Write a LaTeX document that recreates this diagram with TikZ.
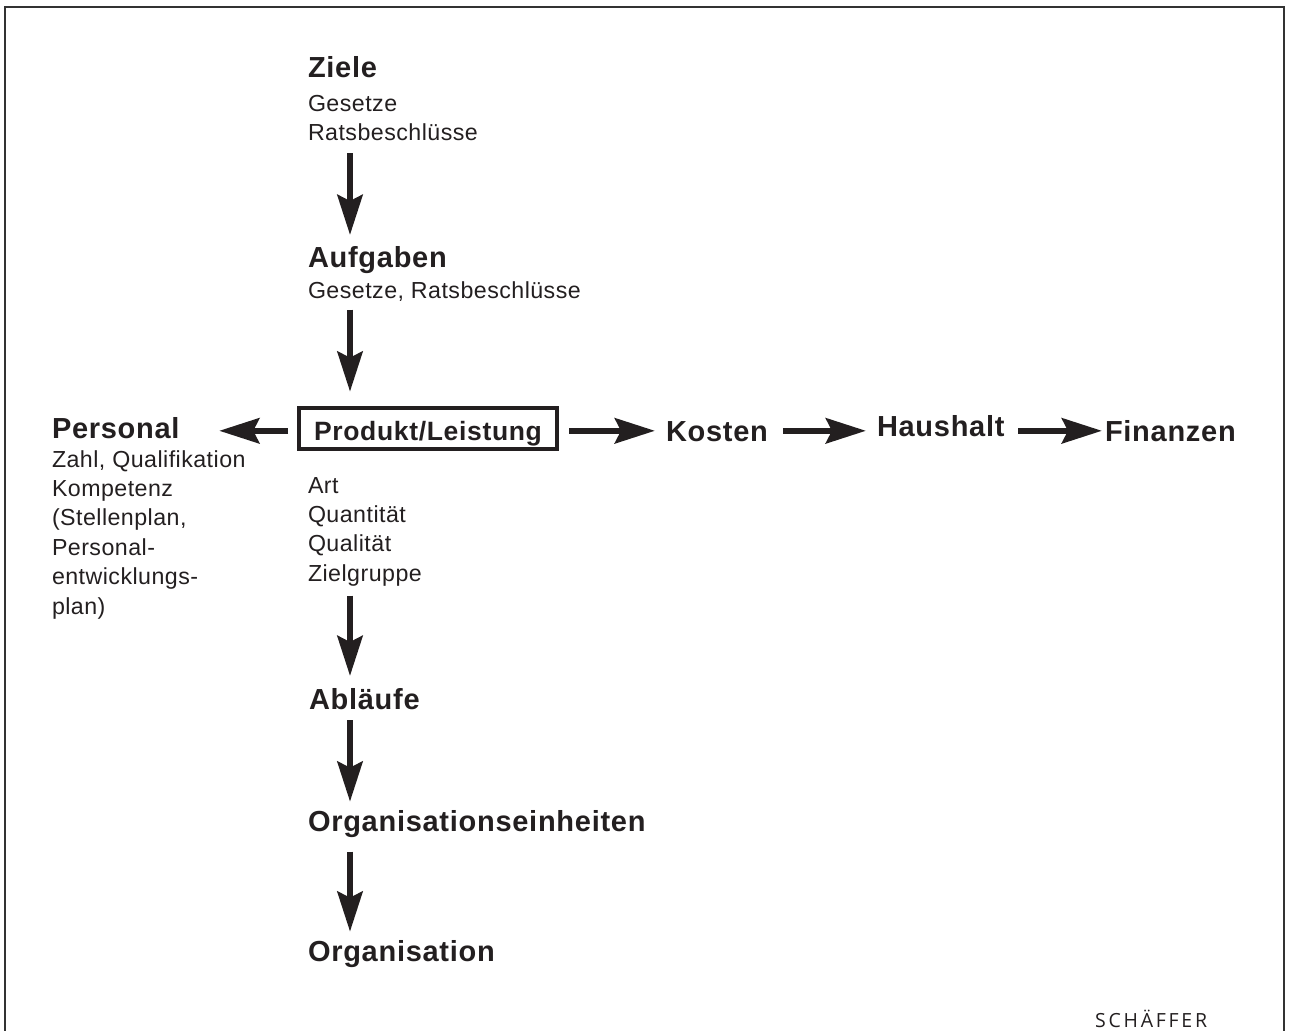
\documentclass[tikz,border=0pt]{standalone}
\usepackage{fontspec}
\setmainfont{Liberation Sans}
\newfontfamily\hdf[LetterSpace=2.5]{Liberation Sans}
\newfontfamily\sbf[LetterSpace=2]{Liberation Sans}
\newfontfamily\logof[LetterSpace=14]{Open Sans}
\usetikzlibrary{arrows.meta}
\definecolor{ink}{HTML}{231F20}
\definecolor{framec}{HTML}{333333}
\tikzset{
  hd/.style={font=\hdf\fontsize{29}{34}\selectfont\bfseries, inner sep=0pt, outer sep=0pt,
             anchor=base west, text height=21pt, text depth=6pt, text=ink},
  sub/.style={font=\sbf\fontsize{23.2}{29.4}\selectfont, inner sep=0pt, outer sep=0pt,
              anchor=base west, align=left, text=ink},
  arr/.style={draw=ink, line width=6.5pt, -{Stealth[length=40pt,width=25pt,inset=6pt]}},
  boxed/.style={draw=ink, line width=4pt, minimum width=258pt, minimum height=41pt,
                inner sep=0pt, text height=23pt, text depth=0pt, text=ink,
                font=\hdf\fontsize{26.5}{32}\selectfont\bfseries},
  frame/.style={draw=framec, line width=2pt}
}
\begin{document}
\begin{tikzpicture}[x=1pt,y=-1pt]
\useasboundingbox (0,0) rectangle (1289,1030);
\draw[frame] (5,1036) -- (5,7) -- (1284.3,7) -- (1284.3,1036);

\coordinate (ax) at (350,0);
\coordinate (ay) at (0,430.8);

% multi-line nodes: base anchor = baseline of last line
\node[hd] (zie) at (308,78) {Ziele};
\node[sub] (zs) at (308,140.7) {Gesetze\\Ratsbeschlüsse};
\node[hd] (auf) at (308,267.3) {Aufgaben};
\node[sub] (as) at (308,298.3) {Gesetze, Ratsbeschlüsse};
\node[boxed] (pl) at (428,428.5) {Produkt/Leistung};
\node[hd] (pers) at (52,438) {Personal};
\node[sub] (ps) at (52,614) {Zahl, Qualifikation\\Kompetenz\\(Stellenplan,\\Personal-\\entwicklungs-\\plan)};
\node[hd] (kos) at (666,441.7) {Kosten};
\node[hd] (hau) at (877,436.5) {Haushalt};
\node[hd] (fin) at (1105,441.7) {Finanzen};
\node[sub] (pls) at (308,581.2) {Art\\Quantität\\Qualität\\Zielgruppe};
\node[hd] (abl) at (309,709.3) {Abläufe};
\node[hd] (oe) at (308,831.7) {Organisationseinheiten};
\node[hd] (org) at (308,961.7) {Organisation};
\node[font=\logof\fontsize{19.5}{22}\selectfont, text=ink, inner sep=0pt, anchor=base west] (logo) at (1095,1027) {SCHÄFFER};

% vertical arrows
\draw[arr, shorten <=12.3pt, shorten >=11.3pt] (zs.south -| ax) -- (auf.north -| ax);
\draw[arr, shorten <=8.4pt, shorten >=14.3pt] (as.south -| ax) -- (pl.north -| ax);
\draw[arr, shorten <=9.5pt, shorten >=12.3pt] (pls.south -| ax) -- (abl.north -| ax);
\draw[arr, shorten <=4.7pt, shorten >=9pt] (abl.south -| ax) -- (oe.north -| ax);
\draw[arr, shorten <=14pt, shorten >=9pt] (oe.south -| ax) -- (org.north -| ax);

% horizontal arrows
\draw[arr, shorten <=9pt, shorten >=39.6pt] (pl.west |- ay) -- (pers.east |- ay);
\draw[arr, shorten <=10pt, shorten >=11pt] (pl.east |- ay) -- (kos.west |- ay);
\draw[arr, shorten <=15pt, shorten >=11pt] (kos.east |- ay) -- (hau.west |- ay);
\draw[arr, shorten <=13.6pt, shorten >=3pt] (hau.east |- ay) -- (fin.west |- ay);
\end{tikzpicture}
\end{document}
